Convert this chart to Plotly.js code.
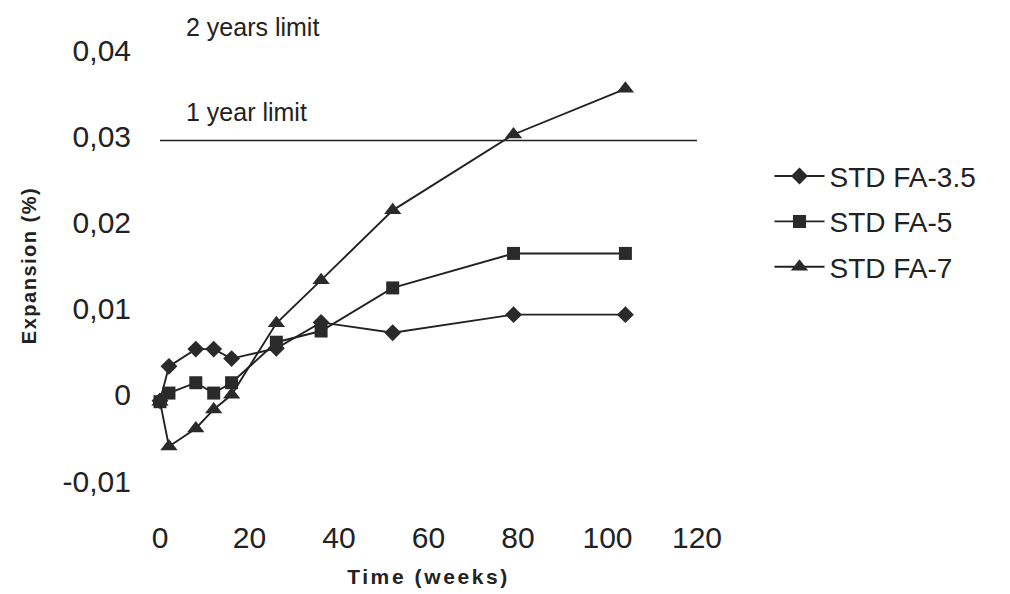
<!DOCTYPE html>
<html>
<head>
<meta charset="utf-8">
<script src="https://cdn.plot.ly/plotly-3.0.1.min.js"></script>
<style>
body{margin:0;padding:0;background:#fff;}
#chart{width:1010px;height:594px;}
.xtitle{letter-spacing:2.6px;}
.ytitle{letter-spacing:1.5px;}
</style>
</head>
<body>
<div id="chart"></div>
<script>
// ---- data ----
const weeks = [0, 2, 8, 12, 16, 26, 36, 52, 79, 104];
const fa35 = [-0.0007, 0.0033, 0.0053, 0.0053, 0.0042, 0.0054, 0.0084, 0.0072, 0.0093, 0.0093];
const fa5  = [-0.0008, 0.0002, 0.0014, 0.0002, 0.0014, 0.0061, 0.0074, 0.0124, 0.0164, 0.0164];
const fa7  = [-0.0008, -0.0060, -0.0039, -0.0017, 0.0000, 0.0083, 0.0133, 0.0214, 0.0302, 0.0355];
const seriesNames = ['STD FA-3.5', 'STD FA-5', 'STD FA-7'];
const limitX = [0, 120];
const oneYearLimit = 0.0295;
const xTickVals = [0, 20, 40, 60, 80, 100, 120];
const xTickText = ['0', '20', '40', '60', '80', '100', '120'];
const yTickVals = [-0.01, 0, 0.01, 0.02, 0.03, 0.04];
const yTickText = ['-0,01', '0', '0,01', '0,02', '0,03', '0,04'];

const ink = '#222222';
const mk = '#2a2a2a';
const font = 'Liberation Sans, Arial, sans-serif';

function series(name, y, symbol, size, grp) {
  return {
    x: weeks, y: y, name: name, type: 'scatter', mode: 'lines+markers',
    line: {color: ink, width: 1.9},
    marker: {symbol: symbol, size: size, color: mk},
    cliponaxis: false, legendgroup: grp
  };
}

const traces = [
  {x: limitX, y: [oneYearLimit, oneYearLimit], type: 'scatter', mode: 'lines',
   line: {color: ink, width: 1.5}, showlegend: false, hoverinfo: 'skip'},
  series(seriesNames[0], fa35, 'diamond', 13, 'a'),
  series(seriesNames[1], fa5, 'square', 13, 'b'),
  series(seriesNames[2], fa7, 'triangle-up', 15, 'c')
];

const layout = {
  width: 1010, height: 594,
  paper_bgcolor: '#fff', plot_bgcolor: '#fff',
  margin: {l: 160, r: 313, t: 50, b: 113},
  font: {family: font, color: ink},
  showlegend: true,
  legend: {x: 1.135, y: 0.765, xanchor: 'left', yanchor: 'top',
           font: {size: 28, color: ink, family: font},
           traceorder: 'grouped', tracegroupgap: 6, itemwidth: 50},
  xaxis: {range: [0, 120], tickvals: xTickVals, ticktext: xTickText,
          showgrid: false, zeroline: false, showline: false, ticks: '',
          ticklabelstandoff: 36, tickfont: {size: 30, color: ink},
          title: {text: 'Time (weeks)', font: {size: 21, color: ink, family: font, weight: 'bold'}, standoff: 16}},
  yaxis: {range: [-0.01, 0.04], tickvals: yTickVals, ticktext: yTickText,
          showgrid: false, zeroline: false, showline: false, ticks: '',
          ticklabelstandoff: 28, tickfont: {size: 30, color: ink},
          title: {text: 'Expansion (%)', font: {size: 20, color: ink, family: font, weight: 'bold'}, standoff: 20}},
  annotations: [
    {xref: 'x', yref: 'y', x: 5.3, y: 0.0328, xanchor: 'left', yanchor: 'middle',
     text: '1 year limit', showarrow: false, font: {size: 25, color: ink, family: font}},
    {xref: 'x', yref: 'paper', x: 5.3, y: 1.053, xanchor: 'left', yanchor: 'middle',
     text: '2 years limit', showarrow: false, font: {size: 25, color: ink, family: font}}
  ]
};

Plotly.newPlot('chart', traces, layout, {displayModeBar: false, staticPlot: true});
</script>
</body>
</html>
